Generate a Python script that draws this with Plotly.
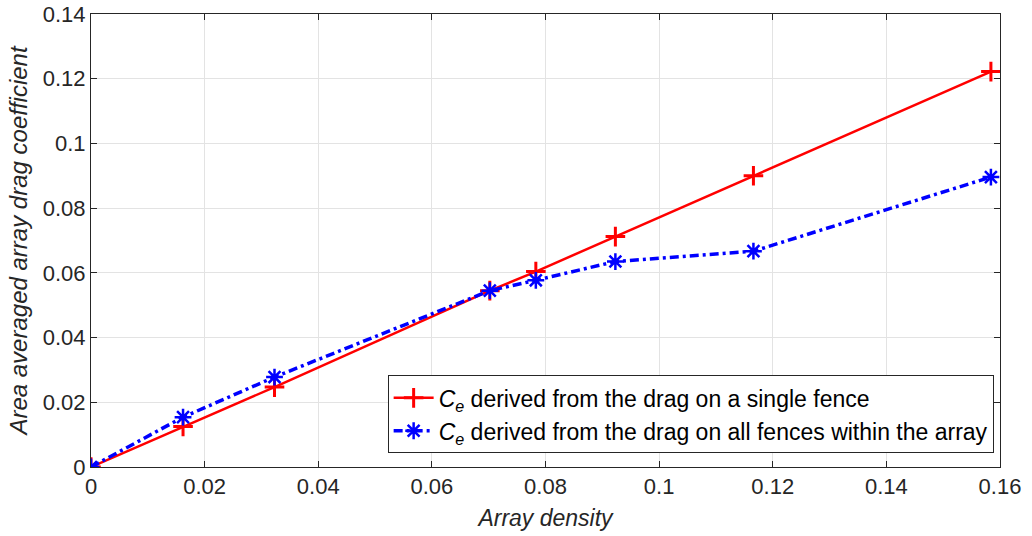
import plotly.graph_objects as go

# Array density (x) and area-averaged drag coefficient (y)
density = [0, 0.0162, 0.0323, 0.0702, 0.0783, 0.0923, 0.1166, 0.1584]
ce_single = [0, 0.0125, 0.0247, 0.0545, 0.0604, 0.0712, 0.0900, 0.1222]
ce_all = [0, 0.0154, 0.0278, 0.0545, 0.0577, 0.0635, 0.0667, 0.0896]

x_ticks = [0, 0.02, 0.04, 0.06, 0.08, 0.1, 0.12, 0.14, 0.16]
x_labels = ["0", "0.02", "0.04", "0.06", "0.08", "0.1", "0.12", "0.14", "0.16"]
y_ticks = [0, 0.02, 0.04, 0.06, 0.08, 0.1, 0.12, 0.14]
y_labels = ["0", "0.02", "0.04", "0.06", "0.08", "0.1", "0.12", "0.14"]

font_family = "Liberation Sans, Arial, sans-serif"

fig = go.Figure()
fig.add_trace(go.Scatter(
    x=density, y=ce_single, mode="lines+markers",
    name="<i>C</i><sub><i>e</i></sub> derived from the drag on a single fence",
    line=dict(color="#ff0000", width=2.5),
    marker=dict(symbol="cross-thin", size=14, line=dict(color="#ff0000", width=3)),
))
fig.add_trace(go.Scatter(
    x=density, y=ce_all, mode="lines+markers",
    name="<i>C</i><sub><i>e</i></sub> derived from the drag on all fences within the array",
    line=dict(color="#0000ff", width=3.5, dash="9px,4px,3px,4px"),
    marker=dict(symbol="asterisk", size=14, line=dict(color="#0000ff", width=2.5)),
))

axis_common = dict(
    showgrid=True, gridcolor="#e3e3e3", gridwidth=1,
    showline=True, linecolor="#262626", linewidth=1, mirror="ticks",
    ticks="inside", ticklen=6, tickcolor="#262626",
    tickfont=dict(family=font_family, size=22, color="#262626"),
    zeroline=False, automargin=False,
)

fig.update_layout(
    width=1032, height=536,
    margin=dict(l=91, r=32, t=14, b=69),
    paper_bgcolor="white", plot_bgcolor="white",
    font=dict(family=font_family, color="#262626"),
    xaxis=dict(
        range=[0, 0.16], tickvals=x_ticks, ticktext=x_labels,
        title=dict(text="<i>Array density</i>", font=dict(size=23, color="#262626"), standoff=11),
        **axis_common,
    ),
    yaxis=dict(
        range=[0, 0.14], tickvals=y_ticks, ticktext=y_labels,
        title=dict(text="<i>Area averaged array drag coefficient</i>", font=dict(size=24, color="#262626"), standoff=8),
        **axis_common,
    ),
    legend=dict(
        x=0.993, y=0.03, xanchor="right", yanchor="bottom",
        bgcolor="white", bordercolor="#262626", borderwidth=1,
        font=dict(family=font_family, size=23, color="#000000"),
        tracegroupgap=0, itemwidth=40,
    ),
    showlegend=True,
)

fig.write_html("out.html")
